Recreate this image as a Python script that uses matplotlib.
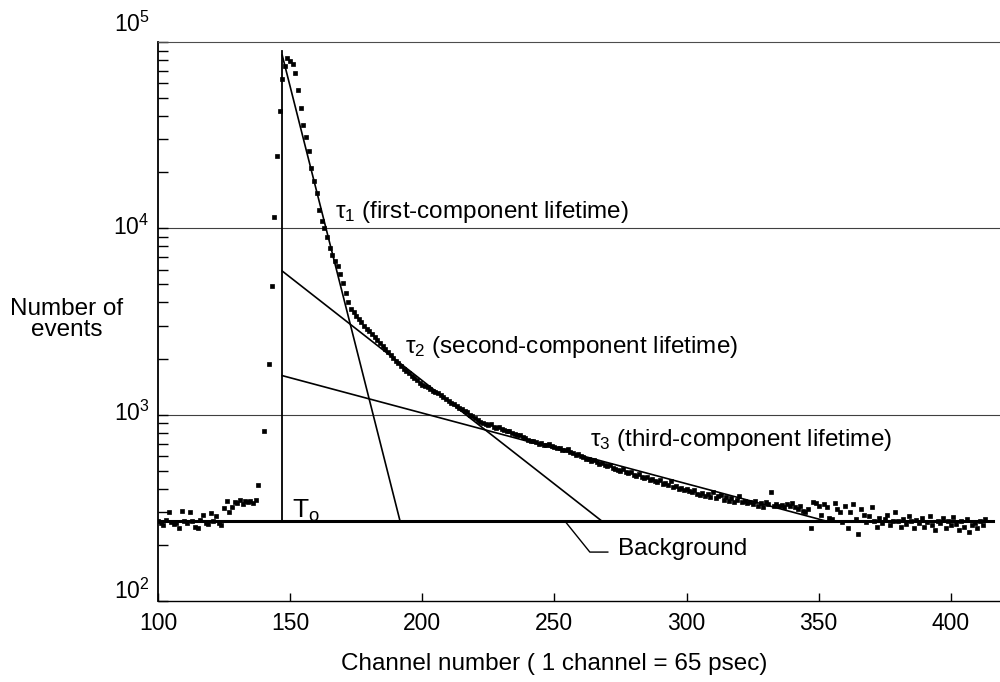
import matplotlib
matplotlib.use("Agg")
import matplotlib.pyplot as plt
from matplotlib.ticker import LogLocator, NullFormatter

plt.rcParams['font.family'] = ['Liberation Sans', 'DejaVu Sans']
plt.rcParams['mathtext.default'] = 'regular'

############# measured counts (read off the plot) ##############
# flat part before the prompt peak
base_ch = list(range(100, 138))
base_counts = [268, 262, 255, 272, 300, 265, 258, 262, 245, 305,
               270, 262, 300, 268, 250, 245, 272, 290, 262, 258,
               295, 270, 285, 262, 255, 315, 345, 300, 320, 340,
               335, 348, 330, 345, 338, 342, 335, 350]

# rising edge
rise_ch = [138, 140, 142, 143, 144, 145, 146, 147]
rise_counts = [420, 820, 1860, 4900, 11500, 24500, 42700, 63000]

# decay after T0
decay_ch = list(range(148, 414))
decay_counts = [74000, 82000, 79000, 76000, 68000, 55000, 44000, 36000, 31000, 26000,
                21000, 18000, 15500, 12500, 11000, 10000, 9000, 7800, 7200, 6700,
                6300, 5700, 5100, 4500, 4000, 3700, 3550, 3400, 3250, 3150,
                3000, 2900, 2800, 2700, 2620, 2520, 2430, 2340, 2260, 2180,
                2100, 2010, 1950, 1890, 1830, 1760, 1710, 1670, 1620, 1580,
                1530, 1480, 1450, 1420, 1400, 1370, 1340, 1320, 1300, 1270,
                1240, 1210, 1190, 1160, 1140, 1110, 1090, 1070, 1050, 1030,
                1000, 980, 960, 940, 910, 900, 890, 880, 890, 860,
                850, 860, 840, 830, 815, 820, 800, 790, 775, 780,
                760, 745, 735, 720, 725, 710, 700, 705, 690, 685,
                695, 675, 670, 665, 660, 650, 645, 655, 630, 625,
                610, 615, 600, 590, 580, 575, 565, 570, 555, 545,
                550, 535, 530, 540, 520, 510, 505, 500, 510, 490,
                485, 495, 475, 470, 480, 460, 455, 465, 445, 450,
                440, 435, 445, 425, 430, 420, 440, 410, 415, 400,
                405, 395, 400, 390, 385, 395, 375, 370, 380, 365,
                375, 360, 385, 355, 365, 370, 350, 360, 345, 355,
                340, 350, 365, 340, 345, 335, 340, 330, 345, 325,
                335, 320, 340, 330, 383, 325, 330, 322, 328, 320,
                330, 325, 335, 318, 310, 325, 305, 300, 310, 245,
                340, 335, 325, 290, 330, 320, 280, 275, 335, 310,
                300, 265, 325, 245, 300, 330, 275, 230, 310, 290,
                265, 285, 320, 270, 250, 280, 262, 275, 290, 255,
                268, 300, 270, 250, 275, 258, 285, 268, 245, 272,
                262, 280, 250, 265, 285, 255, 240, 270, 262, 278,
                245, 268, 255, 282, 260, 240, 268, 250, 275, 235,
                255, 262, 245, 268, 255, 275]

############# fitted components ##############
bg_level = 268
bg_ch = [100, 416]
t0_ch = 147
t0_top = 89000
tau1_ch = [147, 191.6]
tau1_counts = [85000, bg_level]
tau2_ch = [147, 268]
tau2_counts = [5900, bg_level]
tau3_ch = [147, 353]
tau3_counts = [1620, bg_level]
pointer_ch = [254, 263.4, 270.2]
pointer_counts = [bg_level, 183, 183]

x_ticks = [100, 150, 200, 250, 300, 350, 400]
y_ticks = [1e2, 1e3, 1e4, 1e5]
y_labels = ['$10^2$', '$10^3$', '$10^4$', '$10^5$']


def main():
    fig = plt.figure(figsize=(10, 6.82), dpi=100)
    ax = fig.add_axes([0.158, 0.1188, 0.842, 0.8196])
    ax.set_yscale('log')
    ax.set_xlim(100, 418.6)
    ax.set_ylim(1e2, 1e5)

    # decade lines
    for v in [1e3, 1e4]:
        ax.axhline(v, color='0.25', lw=0.8, zorder=1)

    # data points
    ch = base_ch + rise_ch + decay_ch
    counts = base_counts + rise_counts + decay_counts
    ax.plot(ch, counts, 's', color='k', ms=3.2, mew=0.5, ls='none', zorder=3)

    # components
    ax.plot([t0_ch, t0_ch], [bg_level, t0_top], color='k', lw=1.3)
    ax.plot(tau1_ch, tau1_counts, color='k', lw=1.2)
    ax.plot(tau2_ch, tau2_counts, color='k', lw=1.2)
    ax.plot(tau3_ch, tau3_counts, color='k', lw=1.2)
    ax.plot(bg_ch, [bg_level, bg_level], color='k', lw=2.2)
    ax.plot(pointer_ch, pointer_counts, color='k', lw=1.0)

    fs = 17.5
    ax.text(167, 11300, r'$\tau_1$ (first-component lifetime)', fontsize=fs, va='baseline')
    ax.text(193.5, 2150, r'$\tau_2$ (second-component lifetime)', fontsize=fs, va='baseline')
    ax.text(263.5, 683, r'$\tau_3$ (third-component lifetime)', fontsize=fs, va='baseline')
    ax.text(150.7, 281, r'T$_o$', fontsize=19, va='baseline')
    ax.text(274.2, 176, 'Background', fontsize=fs, va='baseline')

    # axes styling
    ax.spines['right'].set_visible(False)
    ax.spines['top'].set_linewidth(0.8)
    ax.spines['top'].set_color('0.3')
    ax.spines['left'].set_linewidth(1.3)
    ax.spines['bottom'].set_linewidth(1.0)

    ax.set_xticks(x_ticks)
    ax.set_xticklabels([str(t) for t in x_ticks])
    ax.tick_params(axis='x', direction='in', length=6, width=1, pad=8, labelsize=16.5)

    ax.set_yticks(y_ticks)
    ax.yaxis.set_minor_locator(LogLocator(base=10, subs=range(2, 10)))
    ax.yaxis.set_minor_formatter(NullFormatter())
    ax.tick_params(axis='y', which='both', direction='in', length=7, width=1, labelleft=False)

    offsets = {1e2: 7, 1e3: 1, 1e4: 1, 1e5: 13}
    for v, lab in zip(y_ticks, y_labels):
        ax.annotate(lab, xy=(0, v), xycoords=ax.get_yaxis_transform(),
                    xytext=(-6, offsets[v]), textcoords='offset points',
                    ha='right', va='center', fontsize=16.5, annotation_clip=False)

    fig.text(0.067, 0.531, 'Number of\nevents', ha='center', va='center',
             multialignment='center', fontsize=fs, linespacing=0.95)
    fig.text(0.554, 0.0264, 'Channel number ( 1 channel = 65 psec)',
             ha='center', va='center', fontsize=fs)

    fig.savefig('out.png', dpi=100)


if __name__ == "__main__":
    main()
